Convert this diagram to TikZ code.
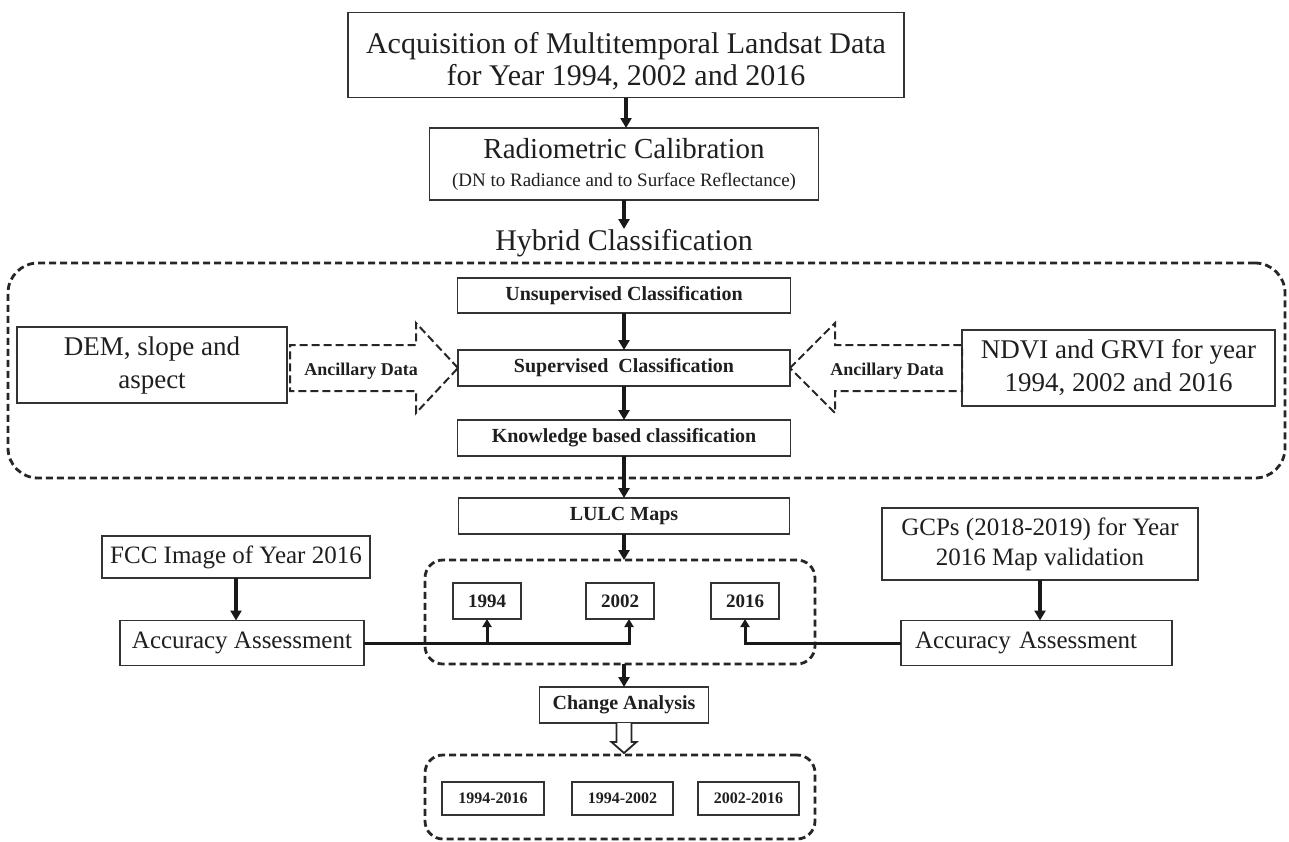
\documentclass[tikz,border=0pt]{standalone}
\usepackage{fontspec}
\setmainfont{Liberation Serif}
\usetikzlibrary{arrows.meta,calc}
\begin{document}
\begin{tikzpicture}[x=1pt,y=-1pt,
  box/.style={draw=black!80, line width=1.4pt, fill=white, inner sep=0pt, outer sep=0pt, align=center, text=black!88},
  bigtxt/.style={font=\fontsize{30}{32}\selectfont},
  dtxt/.style={font=\fontsize{27}{33}\selectfont},
  midtxt/.style={font=\fontsize{25}{30}\selectfont},
  smallb/.style={font=\bfseries\fontsize{20}{24}\selectfont},
  yearb/.style={font=\bfseries\fontsize{19}{22}\selectfont},
  chgb/.style={font=\bfseries\fontsize{16}{19}\selectfont},
  ancl/.style={font=\bfseries\fontsize{18}{21}\selectfont, text=black!88, inner sep=0pt},
  flow/.style={-{Triangle[length=10pt,width=11pt]}, line width=4pt, draw=black!90},
  thinflow/.style={-{Triangle[length=8pt,width=9pt]}, line width=3pt, draw=black!90},
  dashbox/.style={draw=black!85, line width=2.8pt, dash pattern=on 7pt off 4pt, inner sep=0pt, outer sep=0pt},
  ancil/.style={draw=black!85, line width=2pt, dash pattern=on 8pt off 4pt, line join=miter},
  hollow/.style={draw=black!85, line width=1.8pt, fill=white, line join=miter}
]
\useasboundingbox (0,0) rectangle (1289,841);
\fill[white] (0,0) rectangle (1289,841);

% containers
\node[dashbox, rounded corners=30pt, minimum width=1277pt, minimum height=215pt] (hbox) at (646.5,370.5) {};
\node[dashbox, rounded corners=18pt, minimum width=390pt, minimum height=104pt] (yrs) at (620,612) {};
\node[dashbox, rounded corners=18pt, minimum width=390pt, minimum height=84pt] (bot) at (620,797) {};

% main column
\node[box, bigtxt, minimum width=556pt, minimum height=85pt] (top) at (626,55)
  {\rule{0pt}{34pt}Acquisition of Multitemporal Landsat Data\\for Year 1994, 2002 and 2016};
\node[box, font=\fontsize{29}{28}\selectfont, minimum width=389pt, minimum height=72pt] (rad) at (624,164)
  {Radiometric Calibration\\{\fontsize{19}{22}\selectfont (DN to Radiance and to Surface Reflectance)}};
\node[bigtxt, text=black!88, inner sep=0pt] (hyb) at (624,243) {Hybrid Classification};

\node[box, smallb, minimum width=333pt, minimum height=35pt] (unsup) at (624,295.5) {Unsupervised Classification};
\node[box, smallb, minimum width=332pt, minimum height=36pt] (sup) at (624,368) {Supervised\ \ Classification};
\node[box, smallb, minimum width=333pt, minimum height=36pt] (know) at (624,438) {Knowledge based classification};

\node[box, dtxt, minimum width=270pt, minimum height=76pt] (dem) at (152,365) {DEM, slope and\\aspect};
\node[box, dtxt, minimum width=313pt, minimum height=76pt] (ndvi) at (1118.5,368) {NDVI and GRVI for year\\1994, 2002 and 2016};

% ancillary hollow dashed arrows
\draw[ancil] (sup.west) -- ++(-42,-45) -- ++(0,22) -- ($(dem.east|-sup.west)+(3,-23)$) -- ++(0,46) -- ($(sup.west)+(-42,23)$) -- ++(0,22) -- cycle;
\draw[ancil] (sup.east) -- ++(45,-45) -- ++(0,22) -- ($(ndvi.west|-sup.east)+(0,-23)$) -- ++(0,46) -- ($(sup.east)+(45,23)$) -- ++(0,22) -- cycle;
\node[ancl] (anl) at (361,371) {Ancillary Data};
\node[ancl] (anr) at (887,371) {Ancillary Data};

\node[box, smallb, minimum width=331pt, minimum height=36pt] (lulc) at (624,516) {LULC Maps};

\node[box, yearb, minimum width=68pt, minimum height=36pt] (y1994) at (487,601) {1994};
\node[box, yearb, minimum width=68pt, minimum height=36pt] (y2002) at (620,601) {2002};
\node[box, yearb, minimum width=68pt, minimum height=36pt] (y2016) at (745,601) {2016};
\coordinate (a02) at ([xshift=9pt]y2002.south);

\node[box, midtxt, minimum width=268pt, minimum height=42pt] (fcc) at (236,557) {FCC Image of Year 2016};
\node[box, midtxt, minimum width=244pt, minimum height=45pt] (aal) at (242,643) {Accuracy Assessment};
\node[box, midtxt, minimum width=316pt, minimum height=72pt] (gcp) at (1040,544) {GCPs (2018-2019) for Year\\2016 Map validation};
\node[box, midtxt, minimum width=271pt, minimum height=45pt, text width=243pt, align=left, inner xsep=14pt] (aar) at (1036.5,643) {Accuracy Assessment};

\node[box, smallb, minimum width=169pt, minimum height=36pt] (chg) at (624,705) {Change Analysis};
\node[box, chgb, minimum width=102pt, minimum height=33pt] (c1) at (493,798.5) {1994-2016};
\node[box, chgb, minimum width=101pt, minimum height=33pt] (c2) at (622.5,798.5) {1994-2002};
\node[box, chgb, minimum width=101pt, minimum height=33pt] (c3) at (748.5,798.5) {2002-2016};

% connectors
\draw[flow] (top.south) -- (top.south |- rad.north);
\draw[flow] (rad.south) -- (hyb.north);
\draw[flow] (unsup.south) -- (sup.north);
\draw[flow] (sup.south) -- (know.north);
\draw[flow] (know.south) -- (lulc.north);
\draw[flow] (lulc.south) -- (lulc.south |- yrs.north);
\draw[flow] (chg.north |- yrs.south) -- (chg.north);
\draw[hollow] ($(chg.south)+(-7.5,0)$) -- ++(0,19) -- ++(-5,0) -- ($(chg.south)+(0,30)$) -- ($(chg.south)+(12.5,19)$) -- ++(-5,0) -- ($(chg.south)+(7.5,0)$);

\draw[flow] (fcc.south) -- (fcc.south |- aal.north);
\draw[flow] (gcp.south) -- (gcp.south |- aar.north);

\draw[thinflow] (aal.east) -| (a02);
\draw[thinflow] (y1994.south |- aal.east) -- (y1994.south);
\draw[thinflow] (aar.west) -| (y2016.south);
\end{tikzpicture}
\end{document}
